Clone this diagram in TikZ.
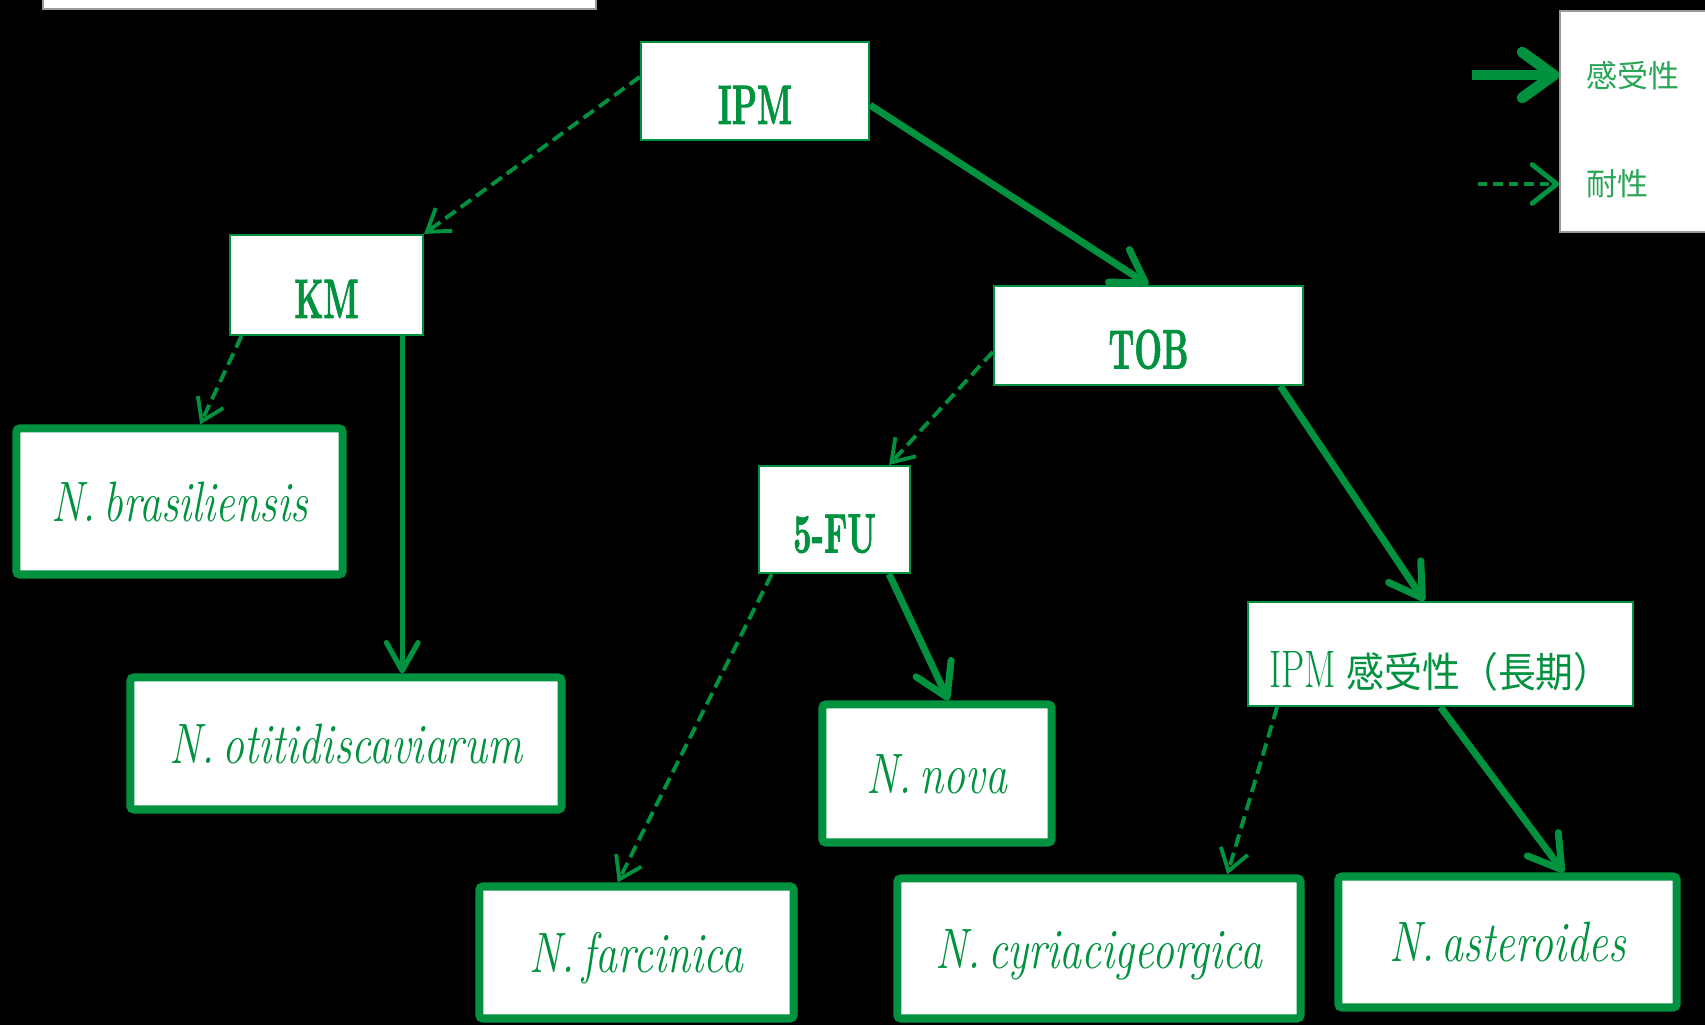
\documentclass[tikz,border=0pt]{standalone}
\usepackage{fontspec}
\usepackage{graphicx}
\usetikzlibrary{arrows.meta}
\newfontfamily\cjkfont[Scale=0.78]{Noto Sans CJK JP}
\newfontfamily\drugfont[FakeBold=1.6]{lmroman10-bold.otf}
\definecolor{cGreen}{RGB}{0, 146, 63}
\definecolor{cLegendText}{RGB}{40, 165, 85}
\colorlet{cFrame}{black!40!white}
\newcommand{\drugname}[1]{\scalebox{0.58}[1]{\fontsize{15.8}{18}\drugfont #1}}
\newcommand{\speciesname}[1]{\scalebox{0.77}[1]{\fontsize{16.2}{18}\selectfont\itshape #1}}
\tikzset{
    nodeDrug/.style={
        draw=cGreen,
        fill=white,
        line width=0.6pt,
        inner sep=0pt,
        text=cGreen,
        text height=0.66cm,
        text depth=0pt
    },
    nodeSpecies/.style={
        draw=cGreen,
        fill=white,
        line width=2.3pt,
        rounded corners=1pt,
        inner sep=0pt,
        text=cGreen,
        text height=0.39cm,
        text depth=0pt
    },
    nodeLegend/.style={
        text=cLegendText,
        inner sep=0pt,
        anchor=west,
        font=\fontsize{11.3}{12}\cjkfont
    },
    edgeSus/.style={
        -{Straight Barb[length=9pt,width=11pt,round]},
        color=cGreen,
        line width=2pt
    },
    edgeSusThin/.style={
        -{Straight Barb[length=8pt,width=9pt,round]},
        color=cGreen,
        line width=1.5pt
    },
    edgeRes/.style={
        -{Straight Barb[length=6pt,width=8pt]},
        color=cGreen,
        line width=1.1pt,
        dash pattern=on 3.6pt off 1.8pt
    },
    legendSus/.style={
        -{Straight Barb[length=9pt,width=13pt,round]},
        color=cGreen,
        line width=3.1pt
    },
    legendRes/.style={
        -{Straight Barb[length=7pt,width=11pt,round]},
        color=cGreen,
        line width=1.4pt,
        dash pattern=on 2.6pt off 1.8pt
    },
}

\begin{document}
\begin{tikzpicture}[x=0.01cm,y=-0.01cm]
    \useasboundingbox (0,0) rectangle (1705,1025);
    \fill[black] (0,0) rectangle (1705,1025);
    \draw[cFrame,fill=white,line width=0.4pt] (43,-5) rectangle (596,9);

    % drugs
    \node[nodeDrug,minimum width=2.28cm,minimum height=0.98cm] (ipm) at (755,91) {\drugname{IPM}};
    \node[nodeDrug,minimum width=1.93cm,minimum height=1.00cm] (km) at (326.5,285) {\drugname{KM}};
    \node[nodeDrug,minimum width=3.09cm,minimum height=0.99cm] (tob) at (1148.5,335.5) {\drugname{TOB}};
    \node[nodeDrug,minimum width=1.51cm,minimum height=1.07cm] (fu) at (834.5,519.5) {\drugname{5-FU}};
    \node[nodeDrug,minimum width=3.85cm,minimum height=1.04cm] (ipml) at (1440.5,654)
        {\fontsize{15}{18}\selectfont\scalebox{0.7}[1]{IPM}\hspace{0.2em}\scalebox{0.92}[1]{\cjkfont 感受性（長期）}};

    % species
    \node[nodeSpecies,minimum width=3.26cm,minimum height=1.46cm] (bras) at (179.5,501.5) {\speciesname{N.\,brasiliensis}};
    \node[nodeSpecies,minimum width=4.31cm,minimum height=1.32cm] (otit) at (346,743.5) {\speciesname{N.\,otitidiscaviarum}};
    \node[nodeSpecies,minimum width=3.14cm,minimum height=1.32cm] (farc) at (636.5,952.5) {\speciesname{N.\,farcinica}};
    \node[nodeSpecies,minimum width=2.29cm,minimum height=1.38cm] (nova) at (937,773.5) {\speciesname{N.\,nova}};
    \node[nodeSpecies,minimum width=4.03cm,minimum height=1.40cm] (cyri) at (1099,948.5) {\speciesname{N.\,cyriacigeorgica}};
    \node[nodeSpecies,minimum width=3.38cm,minimum height=1.31cm] (aster) at (1507.5,942) {\speciesname{N.\,asteroides}};

    \draw[edgeRes] (ipm.173) -- (km.north east);
    \draw[edgeSus] (ipm.-7) -- (tob.north);
    \draw[edgeRes] (km.-149) -- (bras.75);
    \draw[edgeSusThin] (km.-34) -- (km.-34 |- otit.north);
    \draw[edgeRes] (tob.186) -- (fu.45);
    \draw[edgeSus] (tob.-21) -- (ipml.107);
    \draw[edgeRes] (fu.-139) -- (farc.105);
    \draw[edgeSus] (fu.-45) -- (nova.81);
    \draw[edgeRes] (ipml.198) -- (cyri.30);
    \draw[edgeSus] (ipml.south) -- (aster.51);

    % legend
    \node[draw=cFrame,fill=white,line width=0.4pt,inner sep=0pt,minimum width=1.47cm,minimum height=2.21cm] (legend) at (1633.5,121.5) {};
    \node[nodeLegend] (lSus) at (1586,76) {感受性};
    \node[nodeLegend] (lRes) at (1586,184) {耐性};
    \coordinate (susTail) at (1472,75);
    \coordinate (resTail) at (1478,184);
    \draw[legendSus] (susTail) -- (susTail -| legend.west);
    \draw[legendRes] (resTail) -- (resTail -| legend.west);
\end{tikzpicture}
\end{document}
